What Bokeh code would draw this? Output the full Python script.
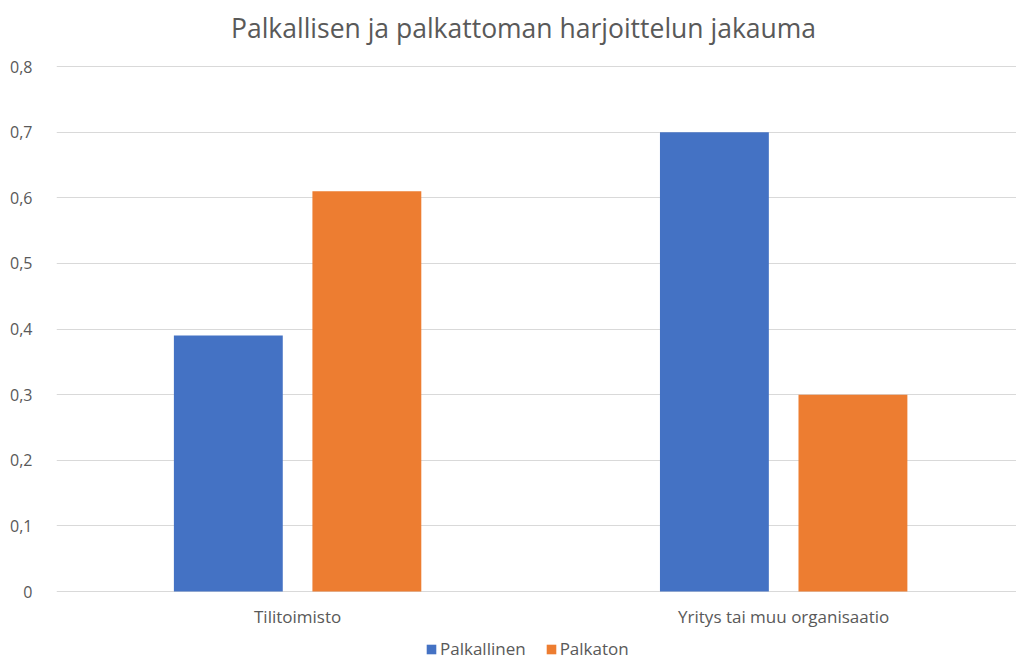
from bokeh.plotting import figure
from bokeh.models import Range1d, FixedTicker, Legend, LegendItem, ColumnDataSource, Label
from bokeh.core.properties import value
from bokeh.embed import file_html
from bokeh.resources import INLINE

categories = ["Tilitoimisto", "Yritys tai muu organisaatio"]
palkallinen = [0.39, 0.70]
palkaton = [0.61, 0.30]
series_names = ["Palkallinen", "Palkaton"]
y_ticks = [0, 0.1, 0.2, 0.3, 0.4, 0.5, 0.6, 0.7, 0.8]
y_labels = ["0", "0,1", "0,2", "0,3", "0,4", "0,5", "0,6", "0,7", "0,8"]
title_text = "Palkallisen ja palkattoman harjoittelun jakauma"

colors = ["#4472C4", "#ED7D31"]
FONT = "Open Sans"
GRAY = "#595959"

idx = list(range(len(categories)))
off = 0.1425
bw = 0.224

src = ColumnDataSource(dict(
    x1=[i - off for i in idx], x2=[i + off for i in idx],
    a=palkallinen, b=palkaton))
csrc = ColumnDataSource(dict(x=idx, y=[0] * len(idx), t=categories))

W, H = 1016, 663
LEFT = 56
px_per_unit = (591 - 66) / 0.8
y_lo = -(H - 591) / px_per_unit
y_hi = 0.8 + 66 / px_per_unit

p = figure(width=W, height=H, output_backend="svg", toolbar_location=None,
           x_range=Range1d(-0.496, 1.479), y_range=Range1d(y_lo, y_hi),
           min_border_left=LEFT, min_border_right=0, min_border_top=0,
           min_border_bottom=0)
p.outline_line_color = None
p.background_fill_color = "white"
p.border_fill_color = "white"

p.add_layout(Label(x=523 - LEFT, y=H - 27, x_units="screen", y_units="screen",
                   text=title_text, text_align="center", text_baseline="middle",
                   text_font=FONT, text_font_size="26.5px", text_color=GRAY))

r1 = p.vbar(x="x1", top="a", width=bw, source=src, fill_color=colors[0], line_color=None)
r2 = p.vbar(x="x2", top="b", width=bw, source=src, fill_color=colors[1], line_color=None)

p.text(x="x", y="y", text="t", source=csrc, y_offset=25, text_align="center",
       text_baseline="middle", text_font=value(FONT), text_font_size="17px",
       text_color=GRAY)

p.yaxis.ticker = FixedTicker(ticks=y_ticks)
p.yaxis.major_label_overrides = {t: l for t, l in zip(y_ticks, y_labels)}
p.yaxis.axis_line_color = None
p.yaxis.major_tick_line_color = None
p.yaxis.minor_tick_line_color = None
p.yaxis.major_label_text_font = FONT
p.yaxis.major_label_text_font_size = "16px"
p.yaxis.major_label_text_color = GRAY
p.yaxis.major_label_standoff = 18

p.xaxis.visible = False

p.xgrid.grid_line_color = None
p.ygrid.ticker = FixedTicker(ticks=y_ticks)
p.ygrid.grid_line_color = "#d9d9d9"
p.ygrid.grid_line_width = 1

legend = Legend(items=[LegendItem(label=series_names[0], renderers=[r1]),
                       LegendItem(label=series_names[1], renderers=[r2])],
                orientation="horizontal", location=(369, 3),
                label_text_font=FONT, label_text_font_size="17px",
                label_text_color=GRAY, glyph_width=12, glyph_height=12,
                label_height=20, label_standoff=3, spacing=19, padding=0, margin=0,
                border_line_color=None, background_fill_alpha=0)
p.add_layout(legend, "center")

open("out.html", "w").write(file_html(p, INLINE))
